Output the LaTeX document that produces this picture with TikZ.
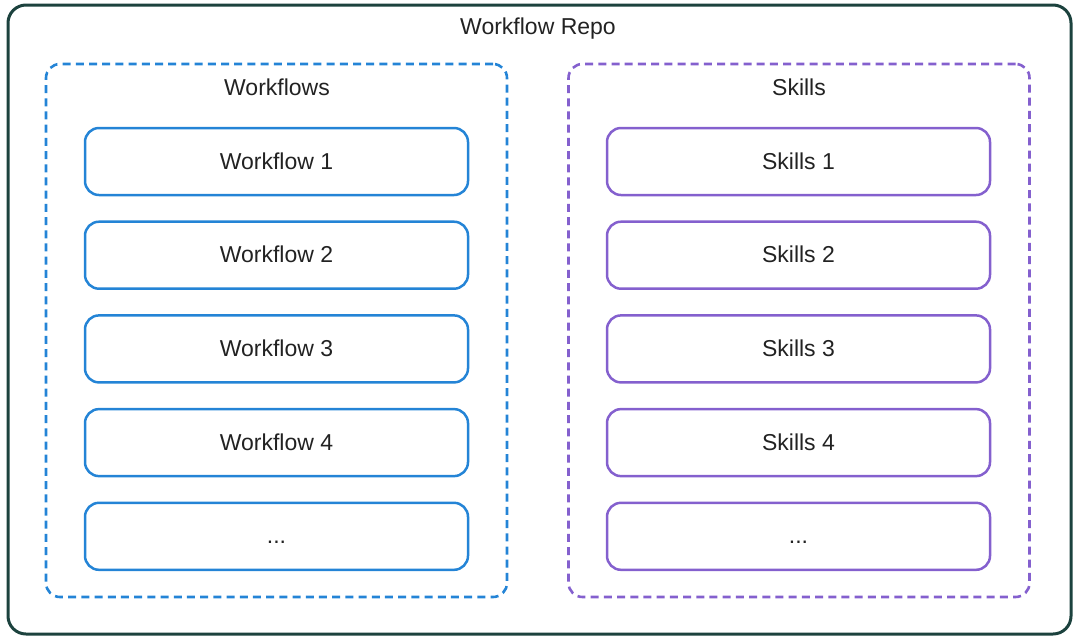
\documentclass[tikz,border=0pt]{standalone}
\usepackage{fontspec}
\setmainfont{Liberation Sans}
\usetikzlibrary{positioning}
\definecolor{repoteal}{RGB}{28,66,62}
\definecolor{wfblue}{RGB}{36,132,214}
\definecolor{skpurple}{RGB}{132,96,206}
\definecolor{txtgray}{RGB}{34,34,34}

\begin{document}
\begin{tikzpicture}[x=0.5pt,y=-0.5pt,font=\fontsize{11.5}{14}\selectfont,text=txtgray,
          node distance=12.1pt,
          repo/.style ={draw=repoteal,line width=1.5pt,rounded corners=9pt,minimum width=531.5pt,minimum height=314.5pt,inner sep=0pt},
          group/.style={draw,line width=1.3pt,dash pattern=on 4pt off 2.6pt,rounded corners=7pt,minimum width=230.5pt,minimum height=266.5pt,inner sep=0pt},
          item/.style ={draw,line width=1.25pt,rounded corners=7pt,minimum width=191.5pt,minimum height=33.5pt,inner sep=0pt,text height=8.3pt,text depth=0.8pt},
          wf/.style   ={item,draw=wfblue},
          sk/.style   ={item,draw=skpurple}]
        \useasboundingbox (0,0) rectangle (1080,638);
        % outer frame
        \node[repo] (repo) at (539.5,319.5) {};
        \node (repotitle) at (538,29) {Workflow Repo};
        % the two groups
        \node[group,draw=wfblue] (wfgroup) at (276.5,330.5) {};
        \node[group,draw=skpurple] (skgroup) at (799,330.5) {};
        \node (wftitle) at (277,87) {Workflows};
        \node (sktitle) at (799,87) {Skills};
        % workflows
        \node[wf] (wf1) at (276.5,161.5) {Workflow 1};
        \node[wf] (wf2) [below=of wf1] {Workflow 2};
        \node[wf] (wf3) [below=of wf2] {Workflow 3};
        \node[wf] (wf4) [below=of wf3] {Workflow 4};
        \node[wf] (wf5) [below=of wf4] {...};
        % skills
        \node[sk] (sk1) at (798.5,161.5) {Skills 1};
        \node[sk] (sk2) [below=of sk1] {Skills 2};
        \node[sk] (sk3) [below=of sk2] {Skills 3};
        \node[sk] (sk4) [below=of sk3] {Skills 4};
        \node[sk] (sk5) [below=of sk4] {...};
      \end{tikzpicture}
\end{document}
